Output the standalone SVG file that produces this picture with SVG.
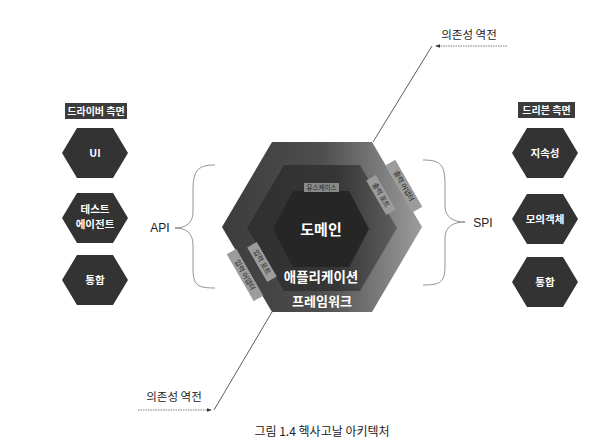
<svg xmlns="http://www.w3.org/2000/svg" width="598" height="442" viewBox="0 0 598 442">
<style>
.node{fill:#333333;}
.nt{font-family:"Noto Sans CJK KR","Noto Sans",sans-serif;font-size:10.5px;font-weight:bold;fill:#ffffff;text-anchor:middle;}
.lbl{fill:#3c3c3c;}
.lt{font-family:"Noto Sans CJK KR","Noto Sans",sans-serif;font-size:10px;font-weight:bold;fill:#ffffff;text-anchor:middle;}
.port{fill:#9c9c9c;}
.pt{font-family:"Noto Sans CJK KR","Noto Sans",sans-serif;font-size:7px;fill:#222;text-anchor:middle;}
.brace{fill:none;stroke:#777;stroke-width:0.8;}
.dot{fill:none;stroke:#555;stroke-width:0.8;stroke-dasharray:1.5 1;}
.sol{fill:none;stroke:#333;stroke-width:0.8;}
.lab{font-family:"Noto Sans CJK KR","Noto Sans",sans-serif;font-size:11.5px;fill:#222;}
</style>
<defs>
<linearGradient id="gOuter" x1="0" y1="0" x2="1" y2="0">
<stop offset="0" stop-color="#3c3c3c"/>
<stop offset="0.5" stop-color="#4e4e4e"/>
<stop offset="1" stop-color="#9c9c9c"/>
</linearGradient>
<linearGradient id="gMid" x1="0" y1="0" x2="1" y2="0">
<stop offset="0" stop-color="#303030"/>
<stop offset="0.6" stop-color="#363636"/>
<stop offset="1" stop-color="#5e5e5e"/>
</linearGradient>
<marker id="ah" viewBox="0 0 6 6" refX="5" refY="3" markerWidth="6" markerHeight="6" orient="auto-start-reverse">
<path d="M0,0.8 L6,3 L0,5.2 Z" fill="#333"/>
</marker>
</defs>
<rect width="598" height="442" fill="#ffffff"/>

<g id="connectors">
<path class="brace" d="M215,165 C196,165 193,172 193,192 L193,212 C193,223 186,228 175,228 C186,228 193,233 193,245 L193,268 C193,285 197,288 215,288"/>
<path class="brace" d="M423,160 C441,160 445,165 445,185 L445,206 C445,217 453,222 465,222 C453,222 445,227 445,238 L445,265 C445,282 441,285 423,285"/>
<line class="dot" x1="507" y1="46" x2="436" y2="46" marker-end="url(#ah)"/>
<line class="sol" x1="432" y1="46" x2="373" y2="142"/>
<line class="dot" x1="138" y1="410" x2="211" y2="410" marker-end="url(#ah)"/>
<line class="sol" x1="214" y1="410" x2="272" y2="312"/>
</g>

<g id="hexagon-core">
<g id="framework">
<polygon points="222,227 272,142 372,142 422,227 372,312 272,312" fill="url(#gOuter)"/>
<text class="nt" x="322" y="306" style="font-size:13px">프레임워크</text>
</g>
<g id="application">
<polygon points="247,228 284,165 360,165 397,228 360,291 284,291" fill="url(#gMid)"/>
<text class="nt" x="321" y="282" style="font-size:13.5px">애플리케이션</text>
</g>
<g id="domain">
<polygon points="273,229 293,191 349,191 369,229 349,267 293,267" fill="#262626"/>
<text class="nt" x="321" y="235" style="font-size:15px">도메인</text>
</g>
<g id="usecase">
<rect x="304" y="183" width="35" height="9" fill="#8a8a8a"/>
<text class="pt" x="321.5" y="190" style="font-size:6.5px">유스케이스</text>
</g>
<g id="output-port" transform="translate(381,195) rotate(60)">
<rect class="port" x="-20" y="-5.5" width="40" height="11"/>
<text class="pt" x="0" y="2.5">출력 포트</text>
</g>
<g id="output-adapter" transform="translate(404,186) rotate(60)">
<rect class="port" x="-27" y="-5.5" width="54" height="11"/>
<text class="pt" x="0" y="2.5">출력 어댑터</text>
</g>
<g id="input-port" transform="translate(262,262) rotate(60)">
<rect class="port" x="-20" y="-5.5" width="40" height="11"/>
<text class="pt" x="0" y="2.5">입력 포트</text>
</g>
<g id="input-adapter" transform="translate(245,275) rotate(60)">
<rect class="port" x="-27" y="-5.5" width="54" height="11"/>
<text class="pt" x="0" y="2.5">입력 어댑터</text>
</g>
</g>

<g id="driver-label">
<rect class="lbl" x="65" y="103" width="62" height="16"/>
<text class="lt" x="96" y="115">드라이버 측면</text>
</g>
<g id="driven-label">
<rect class="lbl" x="518" y="102" width="57" height="16"/>
<text class="lt" x="546.5" y="114">드리븐 측면</text>
</g>

<g id="node-ui">
<polygon class="node" points="62,153 77,128 113,128 128,153 113,178 77,178"/>
<text class="nt" x="95" y="157">UI</text>
</g>
<g id="node-test-agent">
<polygon class="node" points="62,218 77,193 113,193 128,218 113,243 77,243"/>
<text class="nt" x="95" y="213">테스트</text>
<text class="nt" x="95" y="228">에이전트</text>
</g>
<g id="node-integration-left">
<polygon class="node" points="62,280 77,255 113,255 128,280 113,305 77,305"/>
<text class="nt" x="95" y="284">통합</text>
</g>
<g id="node-persistence">
<polygon class="node" points="512,153 527,128 563,128 578,153 563,178 527,178"/>
<text class="nt" x="545" y="157">지속성</text>
</g>
<g id="node-mock">
<polygon class="node" points="512,219 527,194 563,194 578,219 563,244 527,244"/>
<text class="nt" x="545" y="223">모의객체</text>
</g>
<g id="node-integration-right">
<polygon class="node" points="512,282 527,257 563,257 578,282 563,307 527,307"/>
<text class="nt" x="545" y="286">통합</text>
</g>

<g id="labels">
<text class="lab" x="160" y="232" text-anchor="middle" style="font-size:12px;font-family:'Liberation Sans',sans-serif">API</text>
<text class="lab" x="483" y="227" text-anchor="middle" style="font-size:12px;font-family:'Liberation Sans',sans-serif">SPI</text>
<text class="lab" x="469" y="39" text-anchor="middle">의존성 역전</text>
<text class="lab" x="174" y="401" text-anchor="middle">의존성 역전</text>
<text class="lab" x="322" y="436" text-anchor="middle" style="font-size:12px">그림 1.4 헥사고날 아키텍처</text>
</g>
</svg>
